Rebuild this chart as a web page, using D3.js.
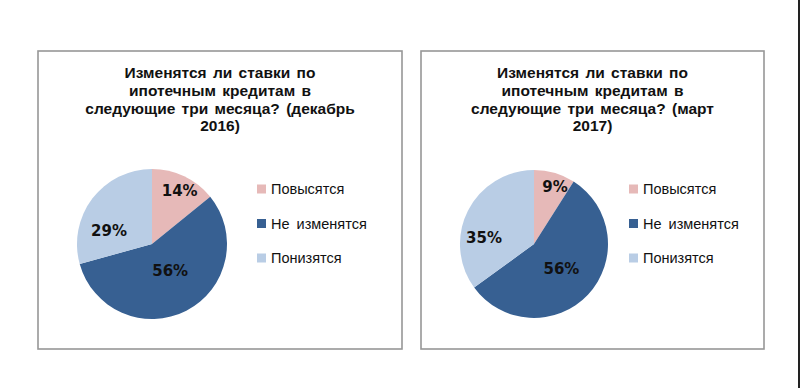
<!DOCTYPE html>
<html>
<head>
<meta charset="utf-8">
<script src="https://cdn.jsdelivr.net/npm/d3@7"></script>
<style>
  html, body { margin: 0; padding: 0; background: #fff; }
  svg { display: block; }
</style>
</head>
<body>
<svg id="chart" width="800" height="388"></svg>
<script>
// данные опроса
const categories = ["Повысятся", "Не изменятся", "Понизятся"];
const valuesDec2016 = [14, 56, 29];
const valuesMar2017 = [9, 56, 35];
const titleDec2016 = ["Изменятся ли ставки по", "ипотечным кредитам в", "следующие три месяца? (декабрь", "2016)"];
const titleMar2017 = ["Изменятся ли ставки по", "ипотечным кредитам в", "следующие три месяца? (март", "2017)"];

const colors = ["#E6B9B8", "#376092", "#B9CDE5"];

// размещение подписей внутри секторов: [доля радиуса, сдвиг угла в градусах]
const labelPlaceDec = [[0.8, 2], [0.43, -7], [0.6, -20]];
const labelPlaceMar = [[0.82, 4], [0.5, -1], [0.68, -20]];

const panels = [
  { x0: 38, x1: 402, cx: 152, cy: 244, r: 75, legendX: 257, values: valuesDec2016, title: titleDec2016, place: labelPlaceDec },
  { x0: 421, x1: 764, cx: 534, cy: 244, r: 74, legendX: 629, values: valuesMar2017, title: titleMar2017, place: labelPlaceMar }
];

const svg = d3.select("#chart");
const W = 800, H = 388;

// тёмная кромка справа
svg.append("rect").attr("x", W - 2).attr("y", 0).attr("width", 2).attr("height", H).attr("fill", "#222");

const pie = d3.pie().sort(null).value(d => d);
const legendY = d3.scalePoint().domain(categories).range([189, 258]);

panels.forEach(p => {
  const g = svg.append("g");

  g.append("rect")
    .attr("x", p.x0).attr("y", 51)
    .attr("width", p.x1 - p.x0).attr("height", 298)
    .attr("fill", "#fff")
    .attr("stroke", "#979797")
    .attr("stroke-width", 1.6);

  const cxTitle = (p.x0 + p.x1) / 2;
  g.append("text")
    .attr("text-anchor", "middle")
    .style("font-family", "'Liberation Sans', Arial, sans-serif")
    .style("font-weight", "bold")
    .style("font-size", "15.5px")
    .style("word-spacing", "2px")
    .attr("fill", "#111")
    .selectAll("tspan")
    .data(p.title)
    .join("tspan")
    .attr("x", cxTitle)
    .attr("y", (d, i) => 78 + i * 17.8)
    .text(d => d);

  const arcs = pie(p.values);
  const arc = d3.arc().innerRadius(0).outerRadius(p.r);
  const pg = g.append("g").attr("transform", `translate(${p.cx},${p.cy})`);

  pg.selectAll("path")
    .data(arcs)
    .join("path")
    .attr("d", arc)
    .attr("fill", (d, i) => colors[i]);

  pg.selectAll("text")
    .data(arcs)
    .join("text")
    .attr("transform", (d, i) => {
      const [k, shift] = p.place[i];
      const a = (d.startAngle + d.endAngle) / 2 + shift * Math.PI / 180;
      const rr = p.r * k;
      return `translate(${Math.sin(a) * rr},${-Math.cos(a) * rr})`;
    })
    .attr("text-anchor", "middle")
    .attr("dy", "0.36em")
    .style("font-family", "'DejaVu Sans', Verdana, sans-serif")
    .style("font-weight", "bold")
    .style("font-size", "15px")
    .attr("fill", "#111")
    .text(d => d.data + "%");

  const lg = g.append("g");
  const items = lg.selectAll("g").data(categories).join("g")
    .attr("transform", d => `translate(${p.legendX},${legendY(d)})`);
  items.append("rect")
    .attr("x", 0).attr("y", -4.5).attr("width", 9).attr("height", 9)
    .attr("fill", (d, i) => colors[i]);
  items.append("text")
    .attr("x", 14).attr("y", 5)
    .style("font-family", "'Liberation Sans', Arial, sans-serif")
    .style("font-size", "14.5px")
    .style("word-spacing", "3px")
    .attr("fill", "#111")
    .text(d => d);
});
</script>
</body>
</html>
